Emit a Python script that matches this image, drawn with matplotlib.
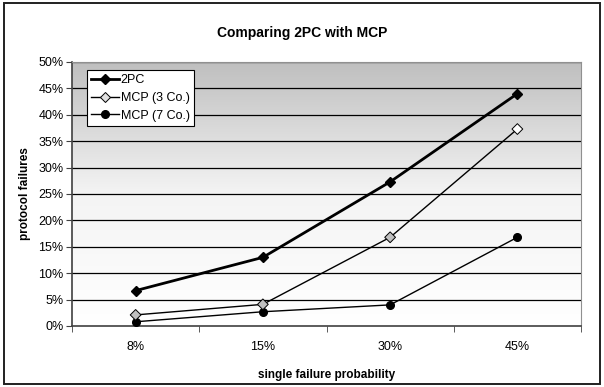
import matplotlib
matplotlib.use("Agg")
import matplotlib.pyplot as plt
import numpy as np
from matplotlib.colors import LinearSegmentedColormap

categories = ["8%", "15%", "30%", "45%"]
pc2 = [6.7, 13.0, 27.3, 44.0]
mcp3 = [2.1, 4.1, 16.8, 37.3]
mcp7 = [0.8, 2.7, 4.0, 16.8]

plt.rcParams['font.family'] = ['Liberation Sans', 'DejaVu Sans']

W, H = 604, 387
fig = plt.figure(figsize=(W/100, H/100), dpi=100)
ax = fig.add_axes([72/W, (H-326)/H, (581-72)/W, (326-62)/H])

# gradient background
cmap = LinearSegmentedColormap.from_list("g", ["#ffffff", "#f4f4f4", "#bfbfbf"])
grad = np.linspace(0, 1, 256).reshape(-1, 1)
ax.imshow(grad, aspect='auto', cmap=cmap, origin='lower',
          extent=[0, 1, 0, 1], transform=ax.transAxes, zorder=0)

x = np.arange(len(categories))
ax.set_xlim(-0.5, len(categories) - 0.5)
ax.set_ylim(0, 50)
for yv in range(5, 51, 5):
    ax.axhline(yv, color='black', lw=0.9, zorder=1)

ax.plot(x, pc2, color='black', lw=2.0, marker='D', ms=5, mfc='black', mec='black', zorder=3, label='2PC')
ax.plot(x, mcp3, color='black', lw=1.0, zorder=3)
ax.scatter(x, mcp3, marker='D', s=30, facecolors=['#c0c0c0', '#c0c0c0', '#c0c0c0', '#ffffff'],
           edgecolors='black', linewidths=0.7, zorder=4)
ax.plot([], [], color='black', lw=1.0, marker='D', ms=5, mfc='#e0e0e0', mec='black', mew=0.7, label='MCP (3 Co.)')
ax.plot(x, mcp7, color='black', lw=1.0, marker='o', ms=5.5, mfc='black', mec='black', zorder=3, label='MCP (7 Co.)')

ax.set_yticks(range(0, 51, 5))
ax.set_yticklabels([f"{v}%" for v in range(0, 51, 5)], fontsize=9)
ax.set_xticks(x)
ax.set_xticklabels(categories, fontsize=9)
ax.set_xticks(np.arange(-0.5, len(categories), 1), minor=True)
ax.tick_params(axis='x', which='major', length=0, pad=11)
ax.tick_params(axis='x', which='minor', length=4, direction='out', color='#404040')
ax.tick_params(axis='y', length=4, direction='out', pad=2, color='#404040')
for s in ['top', 'right']:
    ax.spines[s].set_color('#909090')
    ax.spines[s].set_linewidth(0.8)
for s in ['left', 'bottom']:
    ax.spines[s].set_color('#404040')
    ax.spines[s].set_linewidth(1.2)

ax.set_xlabel("single failure probability", fontsize=8.5, fontweight='bold', labelpad=11)
ax.set_ylabel("protocol failures", fontsize=8.5, fontweight='bold', labelpad=5)
fig.text(0.5, 1 - 33/H, "Comparing 2PC with MCP", ha='center', va='center',
         fontsize=10, fontweight='bold')

leg = ax.legend(loc='upper left', bbox_to_anchor=((87-72)/509, 1 - (70-62)/264), fontsize=9,
                frameon=True, fancybox=False, edgecolor='black', framealpha=1,
                handlelength=2.2, borderpad=0.35, labelspacing=0.45, handletextpad=0.15,
                borderaxespad=0)
leg.get_frame().set_linewidth(0.8)

fig.patches.append(plt.Rectangle((4/W, 3/H), 596/W, 381/H, transform=fig.transFigure,
                                 fill=False, edgecolor='#202020', lw=1.4))

fig.savefig("out.png", dpi=100)
